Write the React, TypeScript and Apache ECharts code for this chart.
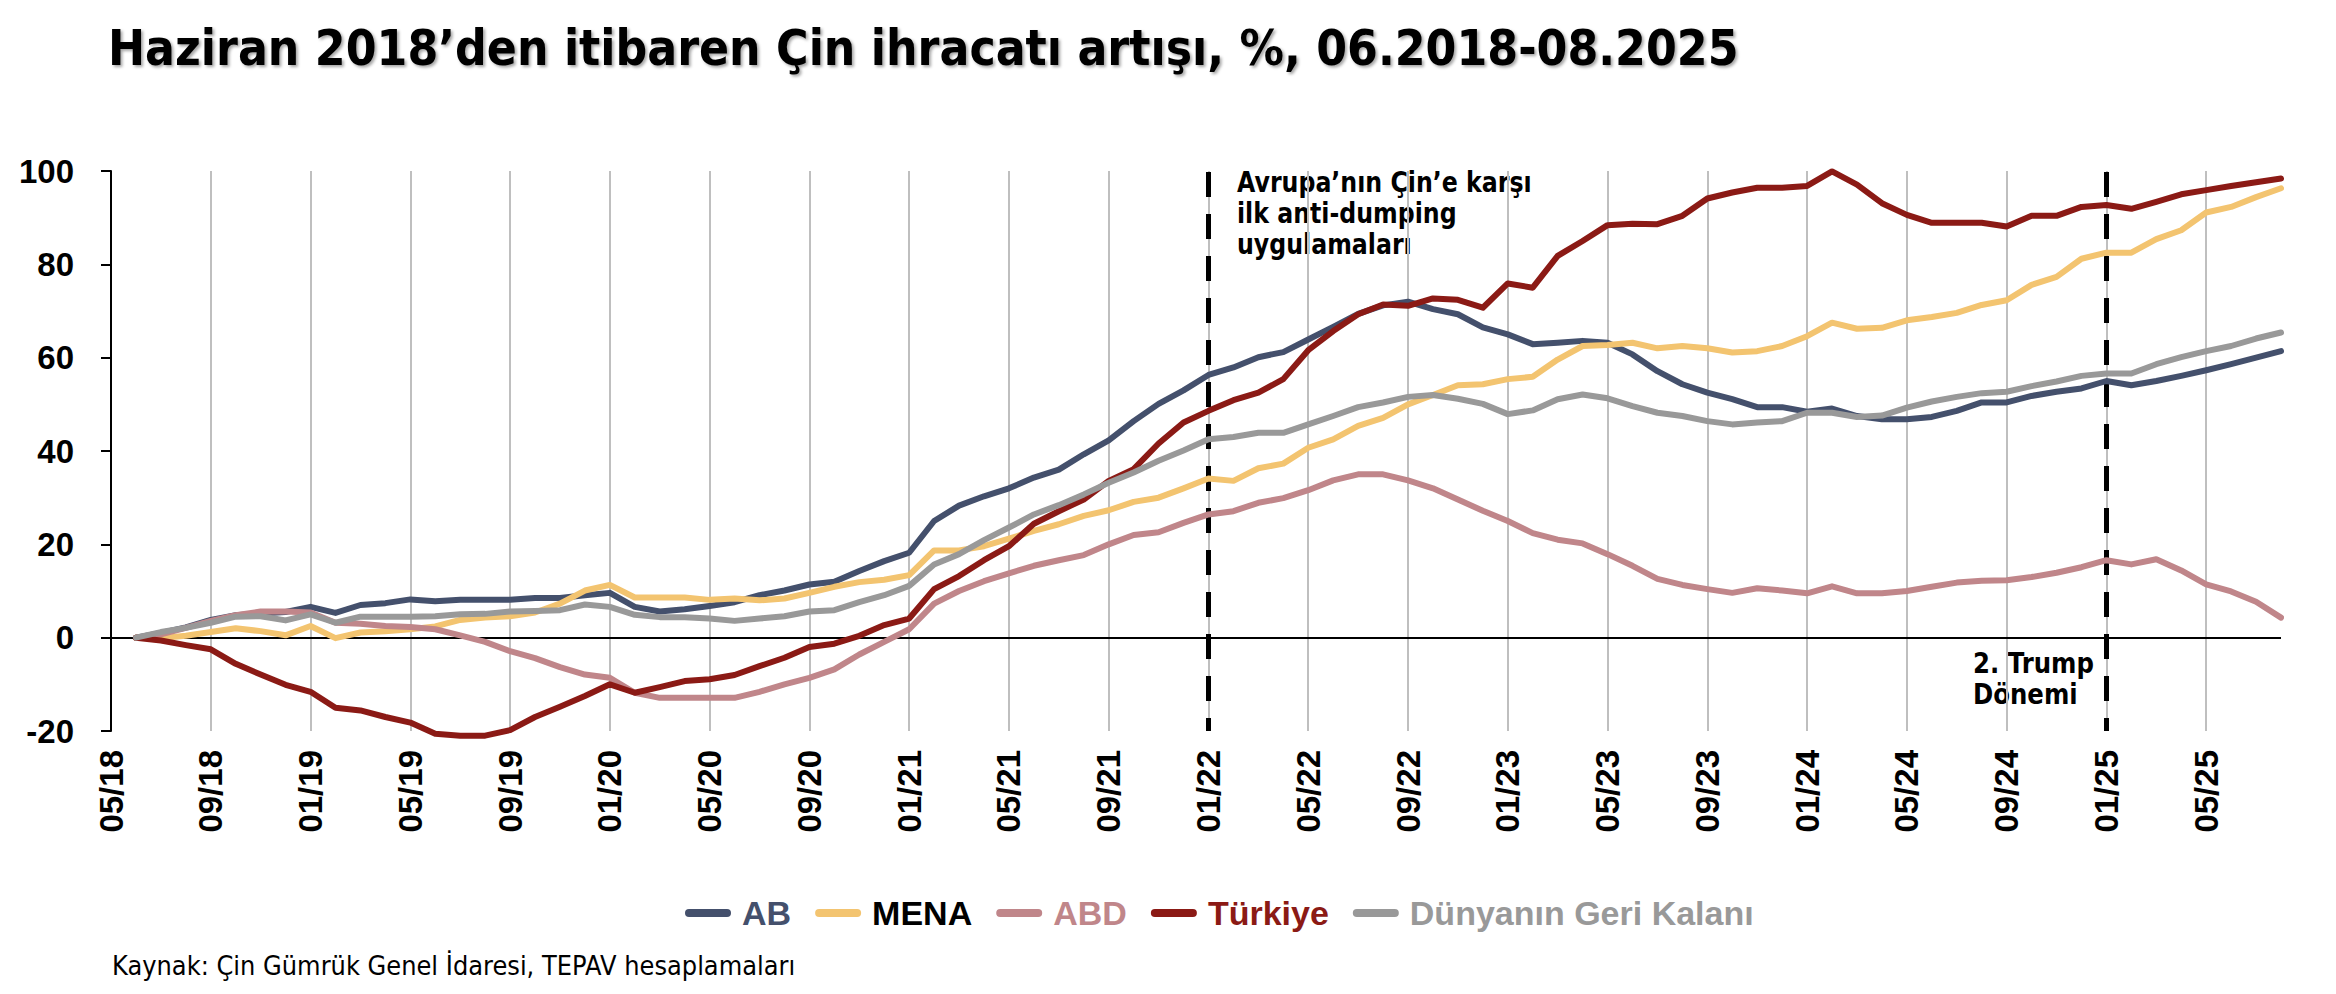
import React, { useEffect, useRef } from "react";
import * as echarts from "echarts";

const months = [
  "05/18", "06/18", "07/18", "08/18", "09/18", "10/18", "11/18", "12/18",
  "01/19", "02/19", "03/19", "04/19", "05/19", "06/19", "07/19", "08/19", "09/19", "10/19", "11/19", "12/19",
  "01/20", "02/20", "03/20", "04/20", "05/20", "06/20", "07/20", "08/20", "09/20", "10/20", "11/20", "12/20",
  "01/21", "02/21", "03/21", "04/21", "05/21", "06/21", "07/21", "08/21", "09/21", "10/21", "11/21", "12/21",
  "01/22", "02/22", "03/22", "04/22", "05/22", "06/22", "07/22", "08/22", "09/22", "10/22", "11/22", "12/22",
  "01/23", "02/23", "03/23", "04/23", "05/23", "06/23", "07/23", "08/23", "09/23", "10/23", "11/23", "12/23",
  "01/24", "02/24", "03/24", "04/24", "05/24", "06/24", "07/24", "08/24", "09/24", "10/24", "11/24", "12/24",
  "01/25", "02/25", "03/25", "04/25", "05/25", "06/25", "07/25", "08/25",
];

// values from 06/18 (index 1); 05/18 has no value
const ab = [null,
  0, 1.0, 2.2, 3.8, 4.8, 5.2, 5.5, 6.6, 5.3, 7.0,
  7.4, 8.2, 7.8, 8.1, 8.1, 8.1, 8.5, 8.5, 9.1, 9.6,
  6.6, 5.6, 6.1, 6.8, 7.6, 9.1, 10.1, 11.4, 12.0, 14.3,
  16.4, 18.2, 25.0, 28.3, 30.3, 32.0, 34.3, 36.0, 39.3, 42.3,
  46.4, 50.1, 53.0, 56.3, 57.9, 60.1, 61.2, 63.9, 66.6, 69.4,
  71.2, 72.0, 70.4, 69.3, 66.5, 65.0, 62.9, 63.2, 63.6, 63.2,
  60.7, 57.1, 54.3, 52.5, 51.1, 49.4, 49.4, 48.4, 49.1, 47.5,
  46.8, 46.8, 47.3, 48.6, 50.4, 50.4, 51.8, 52.7, 53.4, 55.0,
  54.1, 55.0, 56.1, 57.3, 58.6, 60.0, 61.4];

const mena = [null,
  0, -0.1, 0.4, 1.2, 2.0, 1.4, 0.5, 2.5, -0.1, 1.1,
  1.4, 1.8, 2.4, 3.8, 4.3, 4.6, 5.4, 7.3, 10.1, 11.3,
  8.6, 8.6, 8.6, 8.1, 8.4, 8.0, 8.4, 9.6, 10.9, 11.9,
  12.4, 13.4, 18.7, 18.7, 19.6, 21.2, 22.9, 24.3, 26.1, 27.3,
  29.1, 30.0, 32.0, 34.1, 33.6, 36.3, 37.3, 40.7, 42.5, 45.4,
  47.1, 50.0, 52.0, 54.1, 54.3, 55.4, 55.9, 59.6, 62.5, 62.7,
  63.2, 62.0, 62.5, 62.0, 61.1, 61.4, 62.5, 64.6, 67.5, 66.2,
  66.4, 68.0, 68.7, 69.6, 71.3, 72.3, 75.6, 77.3, 81.2, 82.5,
  82.5, 85.4, 87.3, 91.1, 92.3, 94.4, 96.3];

const abd = [null,
  0, 0.7, 2.1, 3.6, 4.8, 5.6, 5.6, 5.4, 3.2, 3.0,
  2.5, 2.3, 1.8, 0.5, -0.9, -2.9, -4.4, -6.3, -7.9, -8.6,
  -11.8, -12.9, -12.9, -12.9, -12.9, -11.6, -10.0, -8.6, -6.8, -3.6,
  -0.9, 1.8, 7.3, 10.0, 12.1, 13.8, 15.4, 16.6, 17.7, 20.0,
  22.0, 22.6, 24.6, 26.4, 27.1, 28.9, 29.9, 31.6, 33.7, 35.0,
  35.0, 33.7, 32.0, 29.6, 27.2, 25.0, 22.4, 21.0, 20.2, 17.9,
  15.4, 12.6, 11.3, 10.4, 9.6, 10.6, 10.1, 9.5, 11.0, 9.5,
  9.5, 10.0, 10.9, 11.8, 12.2, 12.3, 13.0, 13.9, 15.1, 16.6,
  15.7, 16.8, 14.4, 11.4, 9.9, 7.7, 4.3];

const turkiye = [null,
  0, -0.6, -1.6, -2.5, -5.6, -7.9, -10.1, -11.6, -15.0, -15.6,
  -17.0, -18.2, -20.6, -21.0, -21.0, -19.8, -17.0, -14.8, -12.5, -10.0,
  -11.8, -10.6, -9.3, -8.9, -8.0, -6.1, -4.3, -2.0, -1.3, 0.4,
  2.7, 4.1, 10.4, 13.2, 16.6, 19.6, 24.4, 27.1, 29.6, 33.6,
  36.1, 41.6, 46.1, 48.6, 50.9, 52.5, 55.4, 61.6, 65.7, 69.3,
  71.4, 71.1, 72.7, 72.4, 70.7, 75.9, 75.0, 81.8, 85.0, 88.4,
  88.7, 88.6, 90.4, 94.1, 95.4, 96.4, 96.4, 96.8, 99.9, 97.1,
  93.1, 90.6, 88.9, 88.9, 88.9, 88.1, 90.4, 90.4, 92.3, 92.7,
  91.9, 93.4, 95.0, 95.9, 96.8, 97.6, 98.4];

const dunya = [null,
  0, 1.2, 2.1, 3.2, 4.5, 4.6, 3.7, 5.0, 3.2, 4.5,
  4.5, 4.5, 4.6, 5.0, 5.1, 5.6, 5.7, 5.9, 7.1, 6.6,
  4.9, 4.4, 4.4, 4.1, 3.6, 4.1, 4.6, 5.6, 5.9, 7.6,
  9.1, 11.1, 15.7, 17.9, 20.9, 23.6, 26.4, 28.4, 30.7, 33.2,
  35.4, 37.9, 40.1, 42.5, 43.0, 43.9, 43.9, 45.7, 47.5, 49.4,
  50.4, 51.6, 52.0, 51.2, 50.1, 47.9, 48.7, 51.1, 52.1, 51.3,
  49.6, 48.2, 47.5, 46.4, 45.7, 46.1, 46.4, 48.2, 48.2, 47.3,
  47.6, 49.3, 50.6, 51.6, 52.4, 52.7, 53.9, 54.9, 56.1, 56.6,
  56.6, 58.6, 60.1, 61.4, 62.5, 64.1, 65.4];

const seriesNames = ["AB", "MENA", "ABD", "Türkiye", "Dünyanın Geri Kalanı"];
const seriesColors = ["#44506c", "#f3c470", "#c0868a", "#8b1a15", "#999999"];
const legendTextColors = ["#44506c", "#000000", "#c0868a", "#8b1a15", "#999999"];
const seriesData = [ab, mena, abd, turkiye, dunya];

const eventLines = ["01/22", "01/25"];

const TITLE = "Haziran 2018’den itibaren Çin ihracatı artışı, %, 06.2018-08.2025";
const NOTE_EU = ["Avrupa’nın Çin’e karşı", "ilk anti-dumping", "uygulamaları"];
const NOTE_TRUMP = ["2. Trump", "Dönemi"];
const SOURCE = "Kaynak: Çin Gümrük Genel İdaresi, TEPAV hesaplamaları";

const TAHOMA_LIKE = "DejaVu Sans";
const ARIAL_LIKE = "Liberation Sans";

function measure(text: string, font: string): number {
  const c = document.createElement("canvas").getContext("2d");
  if (!c) return 0;
  c.font = font;
  return c.measureText(text).width;
}

function fitScale(text: string, weight: string, size: number, target: number): number {
  const w = measure(text, `${weight} ${size}px "${TAHOMA_LIKE}"`);
  if (!w) return 1;
  return target / w;
}

export default function App() {
  const ref = useRef<HTMLDivElement>(null);

  useEffect(() => {
    if (!ref.current) return;
    const chart = echarts.init(ref.current, null, { renderer: "svg" });

    const titleScale = fitScale(TITLE, "bold", 50, 1630);
    const euScale = fitScale(NOTE_EU[0], "bold", 28, 295);
    const trumpScale = fitScale(NOTE_TRUMP[0], "bold", 28, 121);
    const srcScale = fitScale(SOURCE, "normal", 26.5, 683);

    const series: any[] = seriesNames.map((name, i) => ({
      name,
      type: "line",
      data: seriesData[i],
      symbol: "none",
      clip: false,
      lineStyle: { color: seriesColors[i], width: 6, cap: "round", join: "round" },
      itemStyle: { color: seriesColors[i] },
      emphasis: { disabled: true },
      z: 3,
    }));

    series[0].markLine = {
      silent: true,
      z: 1,
      symbol: ["none", "none"],
      label: { show: false },
      emphasis: { disabled: true },
      data: [
        { yAxis: 0, lineStyle: { color: "#000", width: 2, type: "solid" } },
        ...eventLines.map((m) => ({
          xAxis: m,
          lineStyle: { color: "#000", width: 5, type: [25, 17], dashOffset: 11.7 },
        })),
      ],
    };

    chart.setOption({
      animation: false,
      backgroundColor: "#ffffff",
      grid: { left: 111, top: 171, width: 2170, height: 560, containLabel: false },
      xAxis: {
        type: "category",
        data: months,
        boundaryGap: false,
        axisLine: { show: false, onZero: false },
        axisTick: { show: false },
        axisLabel: {
          interval: 3,
          rotate: 90,
          margin: 19,
          fontFamily: ARIAL_LIKE,
          fontWeight: "bold",
          fontSize: 33,
          color: "#000",
        },
        splitLine: { show: true, interval: 3, lineStyle: { color: "#bfbfbf", width: 2 } },
      },
      yAxis: {
        type: "value",
        min: -20,
        max: 100,
        interval: 20,
        axisLine: { show: true, lineStyle: { color: "#000", width: 2 } },
        axisTick: { show: true, length: 10, lineStyle: { color: "#000", width: 2 } },
        axisLabel: {
          margin: 37,
          fontFamily: ARIAL_LIKE,
          fontWeight: "bold",
          fontSize: 33,
          color: "#000",
        },
        splitLine: { show: false },
      },
      legend: {
        left: 685,
        top: 896,
        padding: 0,
        itemGap: 24,
        itemWidth: 46,
        itemHeight: 8,
        selectedMode: false,
        icon: "path://M4,0L42,0A4,4,0,0,1,42,8L4,8A4,4,0,0,1,4,0Z",
        textStyle: {
          fontFamily: ARIAL_LIKE,
          fontWeight: "bold",
          fontSize: 34,
          padding: [0, 0, 0, 6],
        },
        data: seriesNames.map((name, i) => ({
          name,
          itemStyle: { color: seriesColors[i] },
          textStyle: { color: legendTextColors[i] },
        })),
      },
      graphic: [
        {
          type: "text",
          x: 108,
          y: 48,
          scaleX: titleScale,
          silent: true,
          style: {
            text: TITLE,
            fill: "#000",
            fontFamily: TAHOMA_LIKE,
            fontWeight: "bold",
            fontSize: 50,
            align: "left",
            verticalAlign: "middle",
            textShadowColor: "rgba(0,0,0,0.35)",
            textShadowBlur: 3,
            textShadowOffsetX: 2,
            textShadowOffsetY: 2,
          },
        },
        {
          type: "text",
          x: 1237,
          y: 213,
          scaleX: euScale,
          silent: true,
          style: {
            text: NOTE_EU.join("\n"),
            fill: "#000",
            fontFamily: TAHOMA_LIKE,
            fontWeight: "bold",
            fontSize: 28,
            lineHeight: 31,
            align: "left",
            verticalAlign: "middle",
          },
        },
        {
          type: "text",
          x: 1973,
          y: 679,
          scaleX: trumpScale,
          silent: true,
          style: {
            text: NOTE_TRUMP.join("\n"),
            fill: "#000",
            fontFamily: TAHOMA_LIKE,
            fontWeight: "bold",
            fontSize: 28,
            lineHeight: 31.5,
            align: "left",
            verticalAlign: "middle",
          },
        },
        {
          type: "text",
          x: 112,
          y: 966,
          scaleX: srcScale,
          silent: true,
          style: {
            text: SOURCE,
            fill: "#000",
            fontFamily: TAHOMA_LIKE,
            fontWeight: "normal",
            fontSize: 26.5,
            align: "left",
            verticalAlign: "middle",
          },
        },
      ],
      series,
    });

    return () => chart.dispose();
  }, []);

  return (
    <div
      ref={ref}
      style={{
        position: "fixed",
        left: 0,
        top: 0,
        width: 2336,
        height: 994,
        background: "#ffffff",
      }}
    />
  );
}
